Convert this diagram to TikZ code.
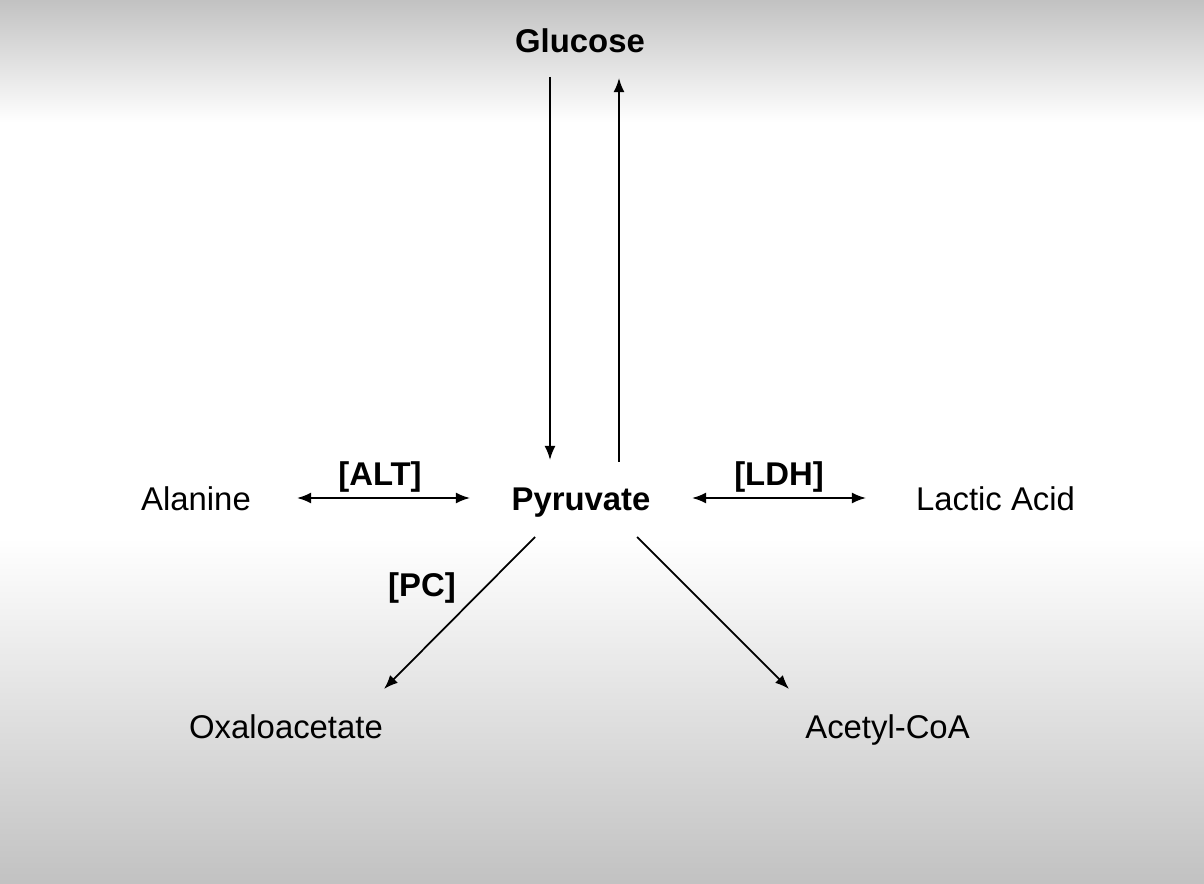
\documentclass[tikz,border=0pt]{standalone}
\usepackage{fontspec}
\setmainfont{Liberation Sans}
\usetikzlibrary{arrows.meta}

\begin{document}
\begin{tikzpicture}[
    chem/.style={anchor=base, inner sep=0pt, font=\fontsize{18.7}{22}\selectfont},
    main/.style={chem, font=\fontsize{18.7}{22}\selectfont\bfseries},
    enz/.style={main},
    arr/.style={-{Latex[length=8pt,width=6.2pt]}, line width=1pt},
    dbl/.style={{Latex[length=8pt,width=6.2pt]}-{Latex[length=8pt,width=6.2pt]}, line width=1pt}
  ]

  % background
  \useasboundingbox (0,0) rectangle (24.08,17.66);
  \fill[white] (0,0) rectangle (24.08,17.66);
  \shade[top color=black!24, bottom color=white] (0,15.2) rectangle (24.08,17.66);
  \shade[top color=white, bottom color=black!24] (0,0) rectangle (24.08,6.9);

  % compounds
  \node[main] (glu) at (11.6, 16.6) {Glucose};
  \node[main] (pyr) at (11.62, 7.46) {Pyruvate};
  \node[chem] (ala) at (3.92, 7.46) {Alanine};
  \node[chem] (lac) at (19.91, 7.46) {Lactic Acid};
  \node[chem] (oxa) at (5.72, 2.9) {Oxaloacetate};
  \node[chem] (ace) at (17.75, 2.9) {Acetyl-CoA};

  % enzymes
  \node[enz] (alt) at (7.6, 7.94) {[ALT]};
  \node[enz] (ldh) at (15.58, 7.94) {[LDH]};
  \node[enz] (pc) at (8.44, 5.74) {[PC]};

  \draw[arr] ([shift={(-0.6,-0.48)}]glu.base) -- ([shift={(-0.62,1.0)}]pyr.base);
  \draw[arr] ([shift={(0.76,0.96)}]pyr.base) -- ([shift={(0.78,-0.5)}]glu.base);

  \draw[dbl] ([shift={(2.02,0.24)}]ala.base) -- ([shift={(-2.22,0.24)}]pyr.base);
  \draw[dbl] ([shift={(2.22,0.24)}]pyr.base) -- ([shift={(-2.59,0.24)}]lac.base);

  \draw[arr] ([shift={(-0.92,-0.54)}]pyr.base) -- ([shift={(1.96,0.98)}]oxa.base);
  \draw[arr] ([shift={(1.12,-0.54)}]pyr.base) -- ([shift={(-1.97,0.98)}]ace.base);

\end{tikzpicture}
\end{document}
